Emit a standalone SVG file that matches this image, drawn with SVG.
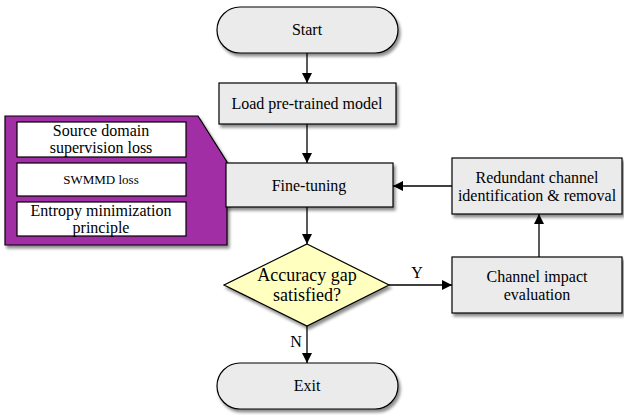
<svg xmlns="http://www.w3.org/2000/svg" width="624" height="415" viewBox="0 0 624 415">
<defs>
<filter id="sh" x="-10%" y="-10%" width="130%" height="140%">
<feDropShadow dx="2" dy="3" stdDeviation="1.5" flood-color="#000" flood-opacity="0.45"/>
</filter>
<marker id="ah" viewBox="0 0 10 10" refX="10" refY="5" markerWidth="10" markerHeight="10" markerUnits="userSpaceOnUse" orient="auto">
<path d="M0,0 L10,5 L0,10 Z" fill="#000"/>
</marker>
<style>
.box{fill:#ebebeb;stroke:#000;stroke-width:1.2;}
.wbox{fill:#fff;stroke:#000;stroke-width:1.2;}
text{font-family:'Liberation Serif','DejaVu Serif',serif;font-size:16px;fill:#000;text-anchor:middle;}
.c{stroke:#000;stroke-width:1.3;fill:none;marker-end:url(#ah);}
</style>
</defs>
<rect width="624" height="415" fill="#fff"/>
<g id="connectors">
<line class="c" x1="307" y1="53" x2="307" y2="83"/>
<line class="c" x1="307" y1="124" x2="307" y2="163"/>
<line class="c" x1="307" y1="207" x2="307" y2="244"/>
<line class="c" x1="389" y1="285" x2="452" y2="285"/>
<line class="c" x1="307" y1="326" x2="307" y2="363"/>
<line class="c" x1="539" y1="257" x2="539" y2="214"/>
<line class="c" x1="452" y1="186" x2="393" y2="186"/>
<text x="417" y="278">Y</text>
<text x="296" y="347">N</text>
</g>
<g id="start">
<rect class="box" x="217" y="7" width="181" height="46" rx="23" filter="url(#sh)"/>
<text x="307" y="35">Start</text>
</g>
<g id="load">
<rect class="box" x="219" y="83" width="177" height="41" filter="url(#sh)"/>
<text x="307" y="109">Load pre-trained model</text>
</g>
<g id="losses">
<path d="M5,116 L198,116 L227,162 L227,245 L5,245 Z" fill="#a22fa6" stroke="#000" stroke-width="1.2" filter="url(#sh)"/>
<rect class="wbox" x="17" y="122" width="169" height="35"/>
<text x="101" y="136">Source domain</text>
<text x="101" y="153">supervision loss</text>
<rect class="wbox" x="17" y="163" width="169" height="33"/>
<text x="101" y="184" style="font-size:13px">SWMMD loss</text>
<rect class="wbox" x="17" y="202" width="169" height="34"/>
<text x="101" y="216">Entropy minimization</text>
<text x="101" y="233">principle</text>
</g>
<g id="finetune">
<rect class="box" x="226" y="163" width="167" height="44" filter="url(#sh)"/>
<text x="309" y="191">Fine-tuning</text>
</g>
<g id="decision">
<path d="M307,244 L389,285 L307,326 L224,285 Z" fill="#ffffc0" stroke="#000" stroke-width="1.2" filter="url(#sh)"/>
<text x="307" y="281" style="font-size:18px">Accuracy gap</text>
<text x="307" y="301" style="font-size:18px">satisfied?</text>
</g>
<g id="impact">
<rect class="box" x="452" y="257" width="170" height="56" filter="url(#sh)"/>
<text x="537" y="282">Channel impact</text>
<text x="537" y="300">evaluation</text>
</g>
<g id="redundant">
<rect class="box" x="452" y="158" width="170" height="56" filter="url(#sh)"/>
<text x="537" y="183">Redundant channel</text>
<text x="537" y="201">identification &amp; removal</text>
</g>
<g id="exit">
<rect class="box" x="217" y="363" width="181" height="46" rx="23" filter="url(#sh)"/>
<text x="307" y="391">Exit</text>
</g>
</svg>
